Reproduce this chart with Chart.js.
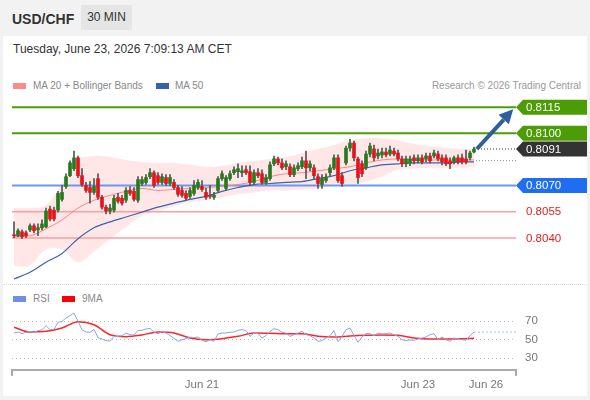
<!DOCTYPE html>
<html><head><meta charset="utf-8">
<script src="https://cdn.jsdelivr.net/npm/chart.js@4.4.1/dist/chart.umd.min.js"></script>
<style>
html,body{margin:0;padding:0;}
body{width:590px;height:400px;position:relative;overflow:hidden;background:#f2f2f2;font-family:"Liberation Sans",Arial,sans-serif;}
#panel{position:absolute;left:3px;top:36px;width:584px;height:360px;background:#fff;}
#title{position:absolute;left:12px;top:11px;font-weight:bold;font-size:14px;color:#333;}
#tf{position:absolute;left:81px;top:5px;width:51px;height:25px;line-height:25px;text-align:center;background:#e5e5e5;font-size:12px;color:#333;}
#date{position:absolute;left:13px;top:42px;font-size:12px;color:#333;}
.leg{position:absolute;font-size:10px;color:#888;line-height:12px;}
.sw{position:absolute;width:13px;height:6px;}
#sep{position:absolute;left:3px;width:584px;top:284px;border-top:1px dotted #dcdcdc;}
canvas{position:absolute;left:0;}
</style></head>
<body>
<div id="panel"></div>
<div id="title">USD/CHF</div>
<div id="tf">30 MIN</div>
<div id="date">Tuesday, June 23, 2026 7:09:13 AM CET</div>
<div class="sw" style="left:13px;top:83px;background:#ff8a8a"></div>
<div class="leg" style="left:33px;top:80px">MA 20 + Bollinger Bands</div>
<div class="sw" style="left:156px;top:83px;background:#3a62a6"></div>
<div class="leg" style="left:175px;top:80px">MA 50</div>
<div class="leg" style="right:9px;top:80px;color:#999">Research © 2026 Trading Central</div>
<div id="sep"></div>
<div class="sw" style="left:13px;top:296px;background:#6f8fe6"></div>
<div class="leg" style="left:33px;top:293px">RSI</div>
<div class="sw" style="left:62px;top:296px;background:#f00"></div>
<div class="leg" style="left:82px;top:293px">9MA</div>
<canvas id="main" width="590" height="200" style="top:90px"></canvas>
<canvas id="rsi" width="590" height="95" style="top:300px"></canvas>
<script>
// ---------- DATA ----------
const openP = [
.80418,.80412,.80435,.80429,.80446,.80469,.80446,.80458,.80463,.80565,
.80559,.80559,.80621,.80695,.80757,.80797,.80859,.80757,.80701,.80689,
.80661,.80740,.80633,.80576,.80554,.80559,.80633,.80627,.80616,.80672,
.80667,.80616,.80712,.80718,.80751,.80774,.80757,.80718,.80746,.80712,
.80718,.80689,.80672,.80655,.80638,.80655,.80689,.80695,.80661,.80644,
.80633,.80672,.80740,.80684,.80740,.80774,.80780,.80774,.80791,.80780,
.80718,.80774,.80768,.80718,.80740,.80825,.80853,.80830,.80808,.80808,
.80763,.80797,.80808,.80842,.80802,.80802,.80751,.80706,.80729,.80774,
.80802,.80859,.80757,.80830,.80915,.80944,.80853,.80825,.80802,.80881,
.80910,.80870,.80876,.80893,.80881,.80898,.80887,.80853,.80825,.80830,
.80859,.80842,.80859,.80853,.80870,.80870,.80881,.80859,.80859,.80842,
.80836,.80859,.80859,.80853,.80859,.80893];
const closeP = [
.80412,.80441,.80407,.80412,.80469,.80441,.80458,.80480,.80554,.80508,
.80508,.80655,.80661,.80751,.80830,.80859,.80757,.80706,.80672,.80661,
.80695,.80633,.80576,.80554,.80571,.80627,.80610,.80599,.80672,.80655,
.80621,.80734,.80734,.80746,.80774,.80701,.80718,.80751,.80712,.80746,
.80689,.80650,.80644,.80627,.80672,.80701,.80718,.80678,.80633,.80638,
.80644,.80740,.80768,.80746,.80768,.80791,.80797,.80785,.80774,.80718,
.80774,.80757,.80718,.80746,.80819,.80853,.80830,.80802,.80825,.80763,
.80802,.80814,.80842,.80802,.80825,.80757,.80712,.80740,.80746,.80802,
.80859,.80729,.80712,.80915,.80944,.80859,.80746,.80768,.80881,.80927,
.80859,.80887,.80893,.80876,.80904,.80881,.80853,.80825,.80853,.80853,
.80842,.80859,.80836,.80870,.80842,.80887,.80853,.80836,.80825,.80825,
.80859,.80836,.80836,.80836,.80887,.80910];
const highP = [
.80492,.80452,.80446,.80441,.80480,.80480,.80480,.80503,.80571,.80582,
.80576,.80667,.80701,.80768,.80842,.80898,.80870,.80797,.80718,.80723,
.80740,.80768,.80644,.80588,.80593,.80644,.80655,.80644,.80689,.80695,
.80689,.80751,.80751,.80763,.80797,.80785,.80774,.80768,.80763,.80763,
.80734,.80701,.80695,.80672,.80689,.80729,.80734,.80729,.80684,.80701,
.80661,.80751,.80785,.80757,.80785,.80808,.80825,.80814,.80814,.80814,
.80791,.80797,.80791,.80763,.80836,.80870,.80864,.80853,.80842,.80825,
.80819,.80830,.80864,.80898,.80842,.80819,.80768,.80763,.80768,.80819,
.80876,.80876,.80774,.80927,.80966,.80955,.80864,.80842,.80898,.80944,
.80932,.80910,.80915,.80915,.80927,.80915,.80904,.80870,.80870,.80870,
.80876,.80876,.80876,.80887,.80887,.80904,.80898,.80876,.80876,.80859,
.80870,.80876,.80881,.80904,.80898,.80921];
const lowP = [
.80401,.80407,.80395,.80401,.80435,.80429,.80412,.80446,.80458,.80497,
.80497,.80548,.80610,.80684,.80751,.80785,.80746,.80695,.80661,.80599,
.80650,.80621,.80565,.80537,.80537,.80548,.80599,.80588,.80604,.80644,
.80610,.80604,.80701,.80706,.80740,.80689,.80706,.80706,.80701,.80701,
.80678,.80638,.80633,.80616,.80627,.80644,.80678,.80667,.80621,.80627,
.80621,.80661,.80729,.80672,.80729,.80763,.80746,.80751,.80763,.80701,
.80706,.80746,.80706,.80706,.80729,.80814,.80819,.80791,.80791,.80751,
.80751,.80785,.80797,.80740,.80785,.80740,.80684,.80684,.80718,.80757,
.80791,.80718,.80695,.80819,.80898,.80842,.80712,.80751,.80791,.80864,
.80842,.80853,.80859,.80864,.80870,.80870,.80842,.80808,.80808,.80814,
.80825,.80830,.80825,.80836,.80830,.80859,.80842,.80819,.80814,.80797,
.80825,.80825,.80825,.80825,.80847,.80887];

// candle indices at which the smooth indicator lines were read
const sampleIdx = [0,4,8,12,16,20,24,28,32,36,40,44,48,52,56,60,64,68,72,76,80,84,88,92,96,100,104,108,112,115];
const ma20 = [.80407,.80412,.80452,.80503,.80571,.80616,.80644,.80667,.80684,.80672,.80678,.80684,.80689,.80695,.80706,.80723,.80751,.80768,.80774,.80785,.80797,.80808,.80830,.80847,.80853,.80847,.80847,.80847,.80847,.80847];
const ma50 = [.80164,.80203,.80260,.80311,.80395,.80458,.80492,.80520,.80548,.80576,.80599,.80621,.80638,.80667,.80689,.80706,.80712,.80718,.80723,.80740,.80757,.80785,.80802,.80819,.80825,.80830,.80830,.80830,.80836,.80836];
const bbUpper = [.80571,.80571,.80588,.80712,.80847,.80870,.80864,.80847,.80836,.80830,.80830,.80819,.80808,.80814,.80830,.80842,.80853,.80864,.80887,.80910,.80932,.80960,.80972,.80972,.80960,.80938,.80927,.80915,.80910,.80910];
const bbLower = [.80237,.80243,.80333,.80333,.80260,.80322,.80395,.80463,.80525,.80554,.80582,.80604,.80616,.80633,.80650,.80661,.80672,.80672,.80678,.80684,.80706,.80701,.80723,.80751,.80791,.80797,.80802,.80802,.80802,.80808];

const rsi = [
57,58.1,56.3,57.8,58.8,57.5,59.6,60.6,65,60.6,
61,68.6,69.6,73.2,75.8,78.6,69.6,60.6,58.1,57.8,
61,52,50.6,48.8,48.4,53.4,53.4,54.2,57,55.2,
54.9,59.9,59.9,61.4,62,58,56,58.8,57,54.2,
51.3,48,49.8,50.9,52.7,52,52.7,49.1,47.5,50,
48,56,57,57,57.8,58.1,59.9,60.6,59.9,53.4,
57,56.5,51.6,54.2,58.8,61.7,60.6,57.8,57,53.4,
55.2,57,58.8,55.2,54.2,51.6,48,48.8,51.6,54.2,
59.6,47.7,53.4,60.6,62.4,54.2,47,52.7,56.5,56.3,
54.2,57,56,56.5,57,55.2,53.4,49.8,48.8,49.5,
49.1,50.6,51.6,52.7,55.2,56.3,49.8,52.7,49.8,48,
51.6,50.6,49.8,49.1,54.2,58];
const rsi9ma = [63.2,58.1,58.8,62.4,69.3,66,55.2,53.1,54.9,58.1,57,51.6,49.8,50.9,53.4,57,56.7,56.3,56.3,53.4,52.7,53.8,54.5,54.9,54.5,51.6,50.6,50.6,50.9,51.3];

const resistance = [0.8115, 0.8100];
const currentPrice = 0.8091;
const support = [0.8070];
const lowerLevels = [0.8055, 0.8040];
const maProjection = 0.80843;
const arrowTarget = 0.81138;
const rsiTicks = [30, 50, 70];
const tickIdx = [47, 101, 118];
const tickLabels = ['Jun 21', 'Jun 23', 'Jun 26'];
const slotMin = -0.5, slotMax = 125.5;

// ---------- CHARTS ----------
Chart.defaults.font.family = '"Liberation Sans", Arial, sans-serif';
const GREEN = '#4b9c05', BLUE_LINE = '#6a9af0', BLUE_TAG = '#1f6ef2', RED_LINE = '#ff9c9c', RED_TXT = '#e41e1e';
const TAG_FONT = '11.5px "Liberation Sans", Arial';
const last = closeP.length - 1;
const hLine = (v, color, w, dash, from) => ({
  type: 'line', data: [{x: from, y: v}, {x: slotMax, y: v}], borderColor: color, borderWidth: w,
  borderDash: dash || [], pointRadius: 0, order: 7, fill: false
});
const pts = (idx, vals) => idx.map((x, k) => ({x, y: vals[k]}));

const tagPlugin = {
  id: 'tags',
  afterDatasetsDraw(chart) {
    const {ctx, chartArea: a, scales: {x, y}} = chart;
    const right = chart.width - 3;
    const tag = (v, color) => {
      const py = y.getPixelForValue(v), h = 7.5, tip = 7, x0 = a.right;
      ctx.save();
      ctx.fillStyle = color;
      ctx.beginPath();
      ctx.moveTo(x0, py); ctx.lineTo(x0 + tip, py - h); ctx.lineTo(right, py - h);
      ctx.lineTo(right, py + h); ctx.lineTo(x0 + tip, py + h); ctx.closePath(); ctx.fill();
      ctx.fillStyle = '#fff'; ctx.font = TAG_FONT; ctx.textBaseline = 'middle';
      ctx.fillText(v.toFixed(4), x0 + 10, py + 0.5);
      ctx.restore();
    };
    resistance.forEach(v => tag(v, GREEN));
    tag(currentPrice, '#333333');
    support.forEach(v => tag(v, BLUE_TAG));
    ctx.save();
    ctx.fillStyle = RED_TXT; ctx.font = TAG_FONT; ctx.textBaseline = 'middle';
    lowerLevels.forEach(v => ctx.fillText(v.toFixed(4), a.right + 10, y.getPixelForValue(v) + 0.5));
    ctx.restore();
    // arrow
    const x1 = x.getPixelForValue(last + 0.7), y1 = y.getPixelForValue(currentPrice);
    const x2 = x.getPixelForValue(last + 9.8), y2 = y.getPixelForValue(arrowTarget);
    const ang = Math.atan2(y2 - y1, x2 - x1), L = 14, W = 7;
    const bx = x2 - L * Math.cos(ang), by = y2 - L * Math.sin(ang);
    ctx.save();
    ctx.strokeStyle = '#2d5e9e'; ctx.fillStyle = '#2d5e9e'; ctx.lineWidth = 4; ctx.lineCap = 'butt';
    ctx.beginPath(); ctx.moveTo(x1, y1); ctx.lineTo(bx, by); ctx.stroke();
    ctx.beginPath(); ctx.moveTo(x2, y2);
    ctx.lineTo(bx + W * Math.sin(ang), by - W * Math.cos(ang));
    ctx.lineTo(bx - W * Math.sin(ang), by + W * Math.cos(ang));
    ctx.closePath(); ctx.fill();
    ctx.restore();
  }
};

const idx = closeP.map((_, i) => i);
new Chart(document.getElementById('main'), {
  type: 'bar',
  data: {
    datasets: [
      {type: 'line', data: pts(sampleIdx, bbUpper), borderWidth: 0, pointRadius: 0, fill: '+1',
       backgroundColor: 'rgba(255,70,70,0.13)', tension: 0.4, order: 10},
      {type: 'line', data: pts(sampleIdx, bbLower), borderWidth: 0, pointRadius: 0, fill: false, tension: 0.4, order: 10},
      {type: 'line', data: pts(sampleIdx, ma20), borderColor: '#ff8585', borderWidth: 1, pointRadius: 0,
       cubicInterpolationMode: 'monotone', order: 6, fill: false},
      {type: 'line', data: pts(sampleIdx, ma50), borderColor: '#3a64aa', borderWidth: 1.2, pointRadius: 0,
       cubicInterpolationMode: 'monotone', order: 6, fill: false},
      ...resistance.map(v => hLine(v, GREEN, 2, null, slotMin)),
      ...support.map(v => hLine(v, BLUE_LINE, 2, null, slotMin)),
      ...lowerLevels.map(v => hLine(v, RED_LINE, 1.5, null, slotMin)),
      hLine(currentPrice, '#333', 1, [1, 2], last + 1),
      hLine(maProjection, '#888', 1, [1, 2], last + 0.5),
      {type: 'bar', data: idx.map(i => ({x: i, y: [lowP[i], highP[i]]})), backgroundColor: '#555555',
       barThickness: 1, grouped: false, order: 2},
      {type: 'bar', data: idx.map(i => ({x: i, y: [openP[i], closeP[i]]})),
       backgroundColor: c => closeP[c.dataIndex] >= openP[c.dataIndex] ? '#277a1c' : '#e3141b',
       borderWidth: 0, barThickness: 3, minBarLength: 1, grouped: false, order: 1}
    ]
  },
  options: {
    responsive: false, animation: false, events: [],
    layout: {padding: {left: 12, right: 74, top: 5, bottom: 3}},
    plugins: {legend: {display: false}, tooltip: {enabled: false}},
    scales: {
      x: {type: 'linear', display: false, min: slotMin, max: slotMax, offset: false},
      y: {type: 'linear', display: false, min: 0.801182, max: 0.812197}
    }
  },
  plugins: [tagPlugin]
});

new Chart(document.getElementById('rsi'), {
  type: 'line',
  data: {
    datasets: [
      {data: idx.map(i => ({x: i, y: rsi[i]})), borderColor: '#8aa5ee', borderWidth: 1, pointRadius: 0, tension: 0},
      {data: pts(sampleIdx, rsi9ma), borderColor: '#ff2525', borderWidth: 1.5, pointRadius: 0, cubicInterpolationMode: 'monotone'},
      {data: [{x: last, y: rsi[last]}, {x: slotMax, y: rsi[last]}], borderColor: '#a9bdf3', borderWidth: 1,
       borderDash: [2, 2], pointRadius: 0}
    ]
  },
  options: {
    responsive: false, animation: false, events: [],
    layout: {padding: {left: 12, right: 0, top: 10, bottom: 0}},
    plugins: {legend: {display: false}, tooltip: {enabled: false}},
    scales: {
      x: {
        type: 'linear', min: slotMin, max: slotMax, offset: false,
        afterBuildTicks: s => { s.ticks = [slotMin, ...tickIdx, slotMax].map(v => ({value: v})); },
        afterFit: s => { s.height = 25; s.paddingLeft = 0; s.paddingRight = 0; },
        ticks: {autoSkip: false, maxRotation: 0, padding: 2, color: '#777', font: {size: 11.5},
          callback: v => { const k = tickIdx.indexOf(v); return k >= 0 ? tickLabels[k] : ''; }},
        grid: {drawOnChartArea: false, drawTicks: true, tickLength: 6, lineWidth: 2,
          color: c => (c.tick && (c.tick.value === slotMin || c.tick.value === slotMax)) ? '#aaaaaa' : 'rgba(0,0,0,0)'},
        border: {display: true, color: '#aaaaaa', width: 2}
      },
      y: {
        type: 'linear', position: 'right', min: 17.03, max: 81.9,
        afterBuildTicks: s => { s.ticks = rsiTicks.map(v => ({value: v})); },
        afterFit: s => { s.width = 74; s.paddingTop = 0; s.paddingBottom = 0; },
        ticks: {padding: 9, color: '#777', font: {size: 11.5}},
        grid: {drawTicks: false, color: '#bdbdbd', lineWidth: 1},
        border: {display: false, dash: [1, 3]}
      }
    }
  }
});
</script>
</body></html>
